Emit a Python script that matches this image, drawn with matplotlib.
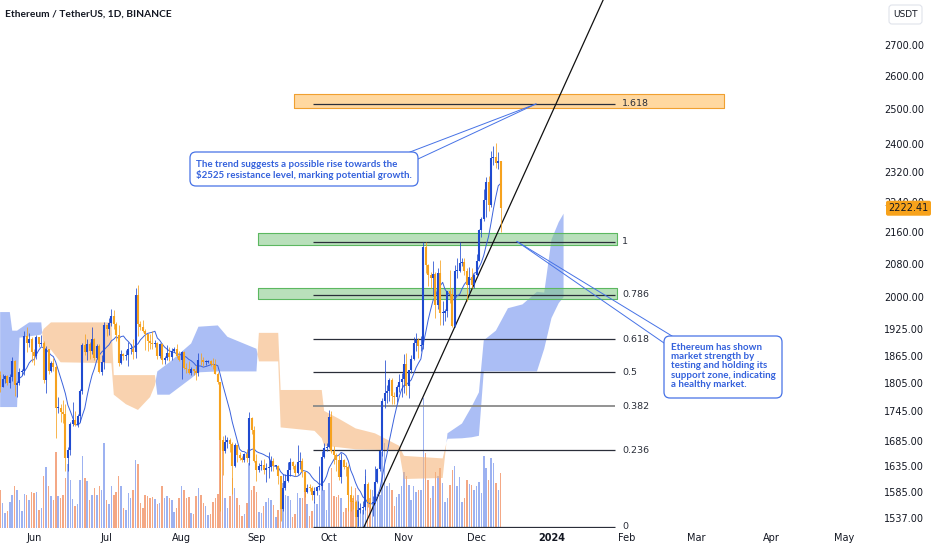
import numpy as np
import pandas as pd
import matplotlib
matplotlib.use("Agg")
import matplotlib.pyplot as plt
import matplotlib.dates as mdates
from matplotlib.patches import FancyBboxPatch
from matplotlib.lines import Line2D
from matplotlib.transforms import Affine2D
from matplotlib.ticker import NullLocator, NullFormatter

plt.rcParams['font.family'] = ['DejaVu Sans']

# ETH/USDT daily candles, 2023-05-18 .. 2023-12-11 (open = previous close)
first_open = 1822
closes = [1797, 1813, 1820, 1804, 1818, 1853, 1800, 1805, 1828, 1830, 1909, 1892, 1901, 1873,
          1863, 1907, 1891, 1892, 1811, 1880, 1832, 1848, 1839, 1752, 1753, 1743, 1739, 1651, 1667,
          1718, 1727, 1717, 1736, 1787, 1889, 1872, 1891, 1874, 1902, 1860, 1887, 1829, 1851, 1933,
          1925, 1938, 1955, 1937, 1911, 1849, 1868, 1863, 1867, 1879, 1879, 1873, 2004, 1937, 1930,
          1921, 1913, 1897, 1892, 1891, 1892, 1865, 1890, 1856, 1859, 1871, 1861, 1874, 1880, 1864, 1856,
          1872, 1838, 1836, 1827, 1835, 1832, 1826, 1856, 1854, 1850, 1850, 1852, 1846, 1843, 1825,
          1807, 1686, 1664, 1682, 1686, 1679, 1635, 1676, 1656, 1651, 1646, 1658, 1651, 1731, 1706, 1645,
          1628, 1635, 1637, 1628, 1632, 1634, 1645, 1635, 1636, 1616, 1553, 1593, 1607, 1627, 1642,
          1636, 1622, 1642, 1645, 1624, 1585, 1593, 1592, 1580, 1588, 1594, 1597, 1652, 1671, 1672,
          1734, 1664, 1656, 1647, 1613, 1646, 1634, 1633, 1580, 1567, 1566, 1539, 1552, 1556, 1558,
          1601, 1567, 1564, 1565, 1604, 1629, 1664, 1767, 1784, 1787, 1811, 1778, 1775, 1796, 1808, 1814,
          1846, 1798, 1833, 1857, 1893, 1900, 1886, 1889, 2121, 2078, 2052, 2045, 2055, 1980, 2058,
          1961, 1962, 1966, 2013, 2007, 1932, 2063, 2063, 2081, 2084, 2063, 2029, 2048, 2028, 2052,
          2087, 2166, 2193, 2243, 2293, 2232, 2358, 2362, 2345, 2352, 2222.41]
highs = [1830, 1825, 1823, 1822, 1825, 1862, 1856, 1810, 1838, 1836, 1920, 1929, 1915, 1907,
         1880, 1910, 1907, 1911, 1898, 1887, 1880, 1853, 1860, 1844, 1776, 1760, 1769, 1760, 1673,
         1723, 1765, 1746, 1740, 1792, 1893, 1913, 1902, 1895, 1930, 1905, 1890, 1890, 1866, 1940,
         1935, 1950, 1972, 1969, 1941, 1935, 1878, 1870, 1878, 1895, 1890, 1903, 2021, 2029, 1944,
         1946, 1925, 1913, 1914, 1921, 1899, 1896, 1893, 1892, 1864, 1888, 1884, 1882, 1885, 1891, 1874,
         1875, 1874, 1848, 1853, 1840, 1836, 1844, 1870, 1870, 1862, 1855, 1856, 1855, 1859, 1857,
         1829, 1808, 1694, 1697, 1693, 1690, 1683, 1680, 1677, 1663, 1654, 1660, 1668, 1743, 1733, 1714,
         1658, 1641, 1646, 1648, 1641, 1662, 1655, 1650, 1638, 1638, 1616, 1620, 1619, 1643, 1650,
         1645, 1639, 1676, 1662, 1650, 1625, 1600, 1600, 1597, 1594, 1597, 1635, 1665, 1681, 1680,
         1747, 1745, 1675, 1660, 1656, 1660, 1648, 1642, 1637, 1596, 1579, 1570, 1569, 1564, 1568,
         1630, 1605, 1591, 1577, 1635, 1632, 1667, 1772, 1855, 1800, 1816, 1816, 1785, 1800, 1825, 1827,
         1869, 1870, 1834, 1867, 1907, 1915, 1905, 1909, 2136, 2134, 2080, 2060, 2086, 2061, 2070,
         2090, 1989, 1970, 2015, 2064, 2020, 2077, 2094, 2134, 2095, 2094, 2071, 2072, 2070, 2055,
         2104, 2167, 2200, 2275, 2307, 2309, 2380, 2392, 2403, 2377, 2352]
lows = [1785, 1796, 1806, 1800, 1795, 1810, 1777, 1776, 1800, 1822, 1822, 1873, 1883, 1850,
        1845, 1858, 1884, 1886, 1804, 1784, 1824, 1828, 1831, 1691, 1742, 1723, 1721, 1626, 1626,
        1657, 1714, 1715, 1713, 1723, 1782, 1866, 1855, 1857, 1868, 1854, 1857, 1826, 1823, 1835,
        1908, 1910, 1932, 1925, 1898, 1841, 1846, 1855, 1856, 1841, 1868, 1858, 1860, 1909, 1922,
        1917, 1878, 1874, 1880, 1880, 1885, 1858, 1860, 1847, 1846, 1854, 1853, 1855, 1872, 1860, 1853,
        1813, 1835, 1827, 1824, 1823, 1822, 1812, 1820, 1843, 1841, 1843, 1848, 1842, 1836, 1824,
        1802, 1550, 1618, 1660, 1670, 1662, 1581, 1633, 1643, 1646, 1643, 1643, 1643, 1638, 1699, 1643,
        1606, 1624, 1627, 1619, 1605, 1612, 1625, 1626, 1630, 1601, 1531, 1550, 1590, 1605, 1615,
        1630, 1615, 1620, 1630, 1614, 1575, 1583, 1588, 1570, 1565, 1580, 1590, 1590, 1650, 1664,
        1670, 1660, 1639, 1626, 1608, 1603, 1630, 1615, 1550, 1550, 1553, 1521, 1523, 1546, 1545,
        1552, 1558, 1556, 1541, 1564, 1603, 1625, 1654, 1752, 1762, 1766, 1761, 1760, 1765, 1786, 1775,
        1784, 1780, 1772, 1826, 1854, 1875, 1860, 1876, 1880, 2058, 2025, 2020, 2003, 1950, 1970,
        1935, 1935, 1943, 1952, 1985, 1930, 1930, 2045, 2060, 2075, 2052, 1990, 2010, 2022, 2021,
        2050, 2086, 2148, 2188, 2200, 2216, 2226, 2340, 2331, 2328, 2160]
volumes = [380, 250, 150, 170, 260, 330, 420, 380, 280, 170, 340, 330, 280, 360,
           350, 360, 180, 200, 520, 610, 420, 320, 280, 760, 320, 300, 330, 500, 640,
           480, 290, 220, 240, 480, 720, 500, 470, 280, 330, 400, 330, 420, 380, 850,
           280, 240, 420, 330, 360, 520, 420, 200, 180, 350, 300, 380, 680, 640, 250,
           200, 330, 320, 300, 310, 290, 240, 250, 420, 300, 320, 300, 280, 160, 200, 300,
           420, 380, 300, 310, 150, 140, 320, 400, 330, 250, 220, 130, 140, 260, 300,
           340, 900, 780, 300, 200, 320, 500, 400, 300, 230, 120, 140, 250, 650, 380, 420,
           360, 160, 150, 220, 260, 300, 280, 230, 110, 180, 480, 450, 330, 320, 280,
           110, 140, 350, 300, 300, 380, 240, 120, 170, 260, 240, 330, 450, 380, 180,
           450, 600, 320, 310, 330, 300, 160, 200, 470, 290, 300, 400, 330, 200, 180,
           520, 350, 300, 380, 420, 340, 330, 760, 850, 420, 450, 380, 220, 310, 340, 420,
           560, 520, 430, 280, 420, 360, 380, 380, 1300, 750, 480, 300, 420, 560, 520,
           600, 450, 260, 300, 430, 580, 620, 420, 510, 260, 300, 480, 440, 430, 380,
           420, 460, 350, 720, 600, 480, 700, 650, 450, 380, 550]
dates = pd.date_range("2023-05-18", periods=len(closes), freq="D")

# Ichimoku cloud edges
cloud_dates = ["2023-05-18", "2023-05-22", "2023-05-23", "2023-05-25", "2023-05-26", "2023-05-30",
               "2023-06-04", "2023-06-05", "2023-06-08", "2023-06-12", "2023-07-03", "2023-07-04",
               "2023-07-09", "2023-07-14", "2023-07-19", "2023-07-21", "2023-07-22", "2023-07-27",
               "2023-08-05", "2023-08-08", "2023-08-16", "2023-08-20", "2023-09-01", "2023-09-02",
               "2023-09-10", "2023-09-11", "2023-09-25", "2023-09-28", "2023-09-29", "2023-10-05",
               "2023-10-12", "2023-10-20", "2023-10-30", "2023-11-01", "2023-11-17", "2023-11-19",
               "2023-11-25", "2023-11-29", "2023-12-02", "2023-12-04", "2023-12-09", "2023-12-14",
               "2023-12-20", "2023-12-26", "2023-12-29", "2024-01-01", "2024-01-04", "2024-01-06"]
span_a = [1964, 1964, 1921, 1921, 1925, 1940, 1940, 1880, 1878, 1850, 1848, 1780,
          1760, 1748, 1775, 1800, 1830, 1850, 1892, 1930, 1933, 1907, 1880, 1852,
          1852, 1712, 1705, 1690, 1675, 1672, 1668, 1667, 1665, 1610, 1612, 1700,
          1720, 1755, 1785, 1899, 1921, 1973, 1982, 2012, 2010, 2141, 2186, 2208]
span_b = [1754, 1754, 1754, 1754, 1905, 1908, 1912, 1925, 1940, 1940, 1940, 1822,
          1822, 1822, 1822, 1822, 1780, 1780, 1815, 1828, 1830, 1830, 1830, 1916,
          1916, 1790, 1790, 1790, 1746, 1730, 1710, 1700, 1675, 1655, 1650, 1689,
          1690, 1692, 1695, 1830, 1830, 1830, 1830, 1830, 1880, 1950, 1985, 1999]

fib_low, fib_high = 1521, 2136
fib_ratios = [0, 0.236, 0.382, 0.5, 0.618, 0.786, 1, 1.618]
fib_labels = ["0", "0.236", "0.382", "0.5", "0.618", "0.786", "1", "1.618"]
support_zones = [(1994, 2022), (2126, 2158)]
target_zone = (2505, 2547)
trend_p1 = ("2023-10-15 12:00", 1521)
trend_p2 = ("2024-01-22 08:00", 2847)

price_ticks = [2700, 2600, 2500, 2400, 2320, 2240, 2160, 2080, 2000, 1925,
               1865, 1805, 1745, 1685, 1635, 1585, 1537]
month_labels = ["Jun", "Jul", "Aug", "Sep", "Oct", "Nov", "Dec", "2024", "Feb", "Mar", "Apr", "May"]
last_price = closes[-1]

note1 = "The trend suggests a possible rise towards the\n$2525 resistance level, marking potential growth."
note2 = "Ethereum has shown\nmarket strength by\ntesting and holding its\nsupport zone, indicating\na healthy market."

# ---- derived ----
opens = np.array([first_open] + closes[:-1], dtype=float)
c = np.array(closes, dtype=float)
h = np.array(highs, dtype=float)
l = np.array(lows, dtype=float)
up = c >= opens
xd = mdates.date2num(dates)
sma = pd.Series(c).rolling(9).mean()

UP, DOWN = "#1f4ad0", "#f6a21e"

fig = plt.figure(figsize=(9.32, 5.5), dpi=100)
fig.patch.set_facecolor("white")
ax = fig.add_axes([0, 22 / 550, 868 / 932, 528 / 550])
ax2 = ax.twinx()
ax.set_zorder(ax2.get_zorder() + 1)
ax.patch.set_visible(False)

# volume
ax2.bar(xd, volumes, width=0.62, color=np.where(up, "#9db2f1", "#f4a885"), linewidth=0)
ax2.set_ylim(0, 5280)
ax2.yaxis.set_visible(False)

ax.set_yscale("log")
ax.set_ylim(1518.8, 2847.6)
jun1 = mdates.date2num(pd.Timestamp("2023-06-01"))
ax.set_xlim(jun1 - 14.06, jun1 + 344.9)

# cloud
cx = mdates.date2num(pd.to_datetime(cloud_dates))
a = np.array(span_a, dtype=float)
b = np.array(span_b, dtype=float)
ax.fill_between(cx, a, b, where=a >= b, interpolate=True, color="#7f9cf0", alpha=0.65, lw=0, zorder=1)
ax.fill_between(cx, a, b, where=a < b, interpolate=True, color="#f5b57a", alpha=0.6, lw=0, zorder=1)

# zones
T = lambda s: mdates.date2num(pd.Timestamp(s))
for lo, hi in support_zones:
    ax.fill_between([T("2023-09-01 14:00"), T("2024-01-28")], [lo, lo], [hi, hi],
                    facecolor=(0.506, 0.78, 0.518, 0.55), edgecolor="#5cb860", lw=0.8, zorder=2)
ax.fill_between([T("2023-09-16 12:00"), T("2024-03-12 10:00")], [target_zone[0]] * 2, [target_zone[1]] * 2,
                facecolor=(1.0, 0.8, 0.5, 0.75), edgecolor="#f0a030", lw=0.8, zorder=2)

# fib levels
levels = [fib_low + r * (fib_high - fib_low) for r in fib_ratios]
for r, lev, lab in zip(fib_ratios, levels, fib_labels):
    col, lw = ("#8a8a8a", 1.3) if r == 0.382 else ("#2a2e39", 0.9)
    ax.hlines(lev, T("2023-09-24 10:00"), T("2024-01-27 08:00"), colors=col, lw=lw, zorder=3)
    ax.text(T("2024-01-30 06:00"), lev, lab, va="center", ha="left", fontsize=6.8,
            color="#2a2e39", zorder=3)

# trend line
ax.axline((T(trend_p1[0]), trend_p1[1]), (T(trend_p2[0]), trend_p2[1]), color="#111111", lw=0.9, zorder=4)

# moving average
ax.plot(xd, sma, color="#3a62dc", lw=0.7, zorder=5)

# candles
cols = np.where(up, UP, DOWN)
ax.vlines(xd, l, h, colors=cols, lw=0.55, zorder=6)
blo = np.minimum(opens, c)
bhi = np.maximum(np.maximum(opens, c), blo + 2.0)
ax.vlines(xd, blo, bhi, colors=cols, lw=1.5, zorder=7)

# axes styling
for s in list(ax.spines.values()) + list(ax2.spines.values()):
    s.set_visible(False)
ax.yaxis.tick_right()
ax.set_yticks(price_ticks)
ax.set_yticklabels([f"{p:.2f}" for p in price_ticks])
ax.yaxis.set_minor_locator(NullLocator())
ax.yaxis.set_minor_formatter(NullFormatter())
ax.tick_params(axis="y", length=0, pad=11.5, labelsize=7, labelcolor="#131722")
mticks = mdates.date2num(pd.date_range("2023-06-01", "2024-05-01", freq="MS"))
ax.set_xticks(mticks)
ax.set_xticklabels(month_labels)
ax.tick_params(axis="x", length=0, pad=3.5, labelsize=7, labelcolor="#131722")
for t in ax.get_xticklabels():
    if t.get_text() == "2024":
        t.set_fontweight("bold")

# pixel transform (origin top-left)
px = Affine2D().scale(1 / 932, -1 / 550).translate(0, 1) + fig.transFigure
fig.canvas.draw()


def to_px(xv, yv):
    dx, dy = ax.transData.transform((xv, yv))
    return dx, 550 - dy


BLUE = "#4672e6"
# callout 1
tx, ty = to_px(T("2023-12-25 14:00"), levels[-1])
for bx, by in [(410, 152), (418, 159)]:
    fig.add_artist(Line2D([bx, tx], [by, ty], color=BLUE, lw=0.7, transform=px, zorder=8))
fig.add_artist(FancyBboxPatch((190, 152), 228, 34, boxstyle="round,pad=0,rounding_size=6",
                              fc="white", ec=BLUE, lw=0.9, transform=px, zorder=9))
fig.text(196, 170, note1, transform=px, fontsize=7, fontweight="bold", color="#3461dc",
         family=["Lato", "DejaVu Sans"], va="center", ha="left", linespacing=1.1, zorder=10)

# callout 2
tx, ty = to_px(T("2023-12-17 18:00"), levels[6])
for bx, by in [(672, 336), (664, 343)]:
    fig.add_artist(Line2D([bx, tx], [by, ty], color=BLUE, lw=0.7, transform=px, zorder=8))
fig.add_artist(FancyBboxPatch((664, 336), 118, 62, boxstyle="round,pad=0,rounding_size=6",
                              fc="white", ec=BLUE, lw=0.9, transform=px, zorder=9))
fig.text(671, 366, note2, transform=px, fontsize=7, fontweight="bold", color="#3461dc",
         family=["Lato", "DejaVu Sans"], va="center", ha="left", linespacing=1.05, zorder=10)

# title
fig.text(5, 14, "Ethereum / TetherUS, 1D, BINANCE", transform=px, fontsize=7.3, fontweight="bold",
         color="#131722", family=["Lato", "DejaVu Sans"], va="center", ha="left")

# currency box
fig.add_artist(FancyBboxPatch((889, 5), 33, 19, boxstyle="round,pad=0,rounding_size=3",
                              fc="white", ec="#e0e3eb", lw=0.8, transform=px, zorder=9))
fig.text(905.5, 14.5, "USDT", transform=px, fontsize=6.5, color="#131722", ha="center", va="center", zorder=10)

# last price label
_, ly = to_px(xd[-1], last_price)
fig.add_artist(FancyBboxPatch((886, ly - 7.5), 45, 15, boxstyle="round,pad=0,rounding_size=2",
                              fc="#f7a21b", ec="none", transform=px, zorder=11))
fig.text(908.5, ly, f"{last_price:.2f}", transform=px, fontsize=7, color="#131722",
         ha="center", va="center", zorder=12)

fig.savefig("out.png", dpi=100)
